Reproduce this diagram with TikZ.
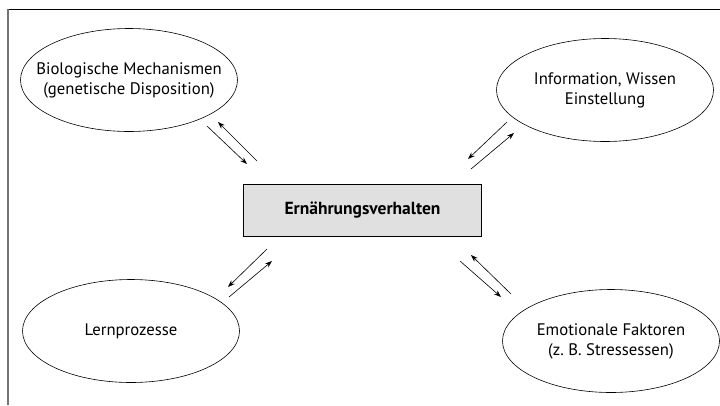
\documentclass[tikz,border=0pt]{standalone}
\usepackage{fontspec}
\setmainfont{PT Sans}
\usetikzlibrary{arrows.meta,shapes.geometric}
\begin{document}
\begin{tikzpicture}[x=1pt,y=-1pt,
  oval/.style={draw,line width=0.6pt,ellipse,minimum width=217pt,minimum height=103pt,inner xsep=-30pt,inner ysep=0pt,align=center,font=\fontsize{16.7}{20}\selectfont},
  mainbox/.style={draw,line width=0.8pt,fill=black!12,minimum width=238pt,minimum height=52pt,inner sep=0pt,font=\fontsize{17.5}{20}\selectfont\bfseries},
  link/.style={line width=0.6pt,-{Stealth[length=7pt,width=5pt]}}]
\useasboundingbox (0,0) rectangle (720,405);
\draw[line width=0.9pt] (7,9) -- (720,9);
\draw[line width=2pt,black!55] (8,9) -- (8,405);
\node[oval] (bio) at (129,80) {Biologische Mechanismen\\(genetische Disposition)};
\node[oval] (info) at (605,90) {Information, Wissen\\Einstellung};
\node[oval] (lern) at (131,331) {Lernprozesse};
\node[oval] (emo) at (611,341) {Emotionale Faktoren\\(z.\ B.\ Stressessen)};
\node[mainbox] (ern) at (362.5,210) {Ernährungsverhalten};
% top-left
\coordinate (a1) at (207,126); \coordinate (a2) at (247,164);
\coordinate (a3) at (257,161); \coordinate (a4) at (218,122);
\draw[link] (a1) -- (a2);
\draw[link] (a3) -- (a4);
% top-right
\coordinate (b1) at (507,122); \coordinate (b2) at (468,159);
\coordinate (b3) at (471,169); \coordinate (b4) at (514,133);
\draw[link] (b1) -- (b2);
\draw[link] (b3) -- (b4);
% bottom-left
\coordinate (c1) at (267,249); \coordinate (c2) at (228,287);
\coordinate (c3) at (229,297); \coordinate (c4) at (272,261);
\draw[link] (c1) -- (c2);
\draw[link] (c3) -- (c4);
% bottom-right
\coordinate (d1) at (460,261); \coordinate (d2) at (501,297);
\coordinate (d3) at (511,294); \coordinate (d4) at (471,255);
\draw[link] (d1) -- (d2);
\draw[link] (d3) -- (d4);
\end{tikzpicture}
\end{document}
